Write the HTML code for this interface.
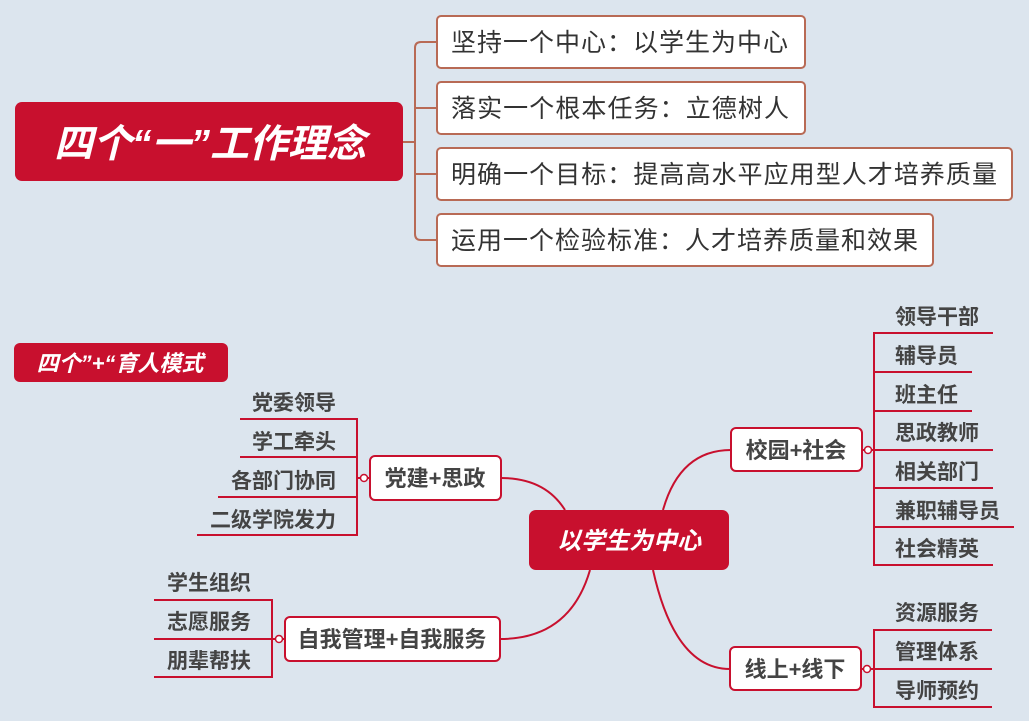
<!DOCTYPE html>
<html><head><meta charset="utf-8"><style>
html,body{margin:0;padding:0;}
body{width:1029px;height:721px;background:#dce5ee;overflow:hidden;}
svg{display:block;}
text{font-family:"Liberation Sans","Noto Sans CJK SC",sans-serif;}
.b{fill:#fff;stroke:#c8102e;stroke-width:2;}
.t{fill:#444;font-weight:bold;font-size:21px;}
.bt{fill:#444;font-weight:bold;font-size:22px;}
.l{stroke:#c8102e;stroke-width:2;fill:none;}
.tb{fill:#fff;stroke:#b86a55;stroke-width:2;}
.tt{fill:#333;font-size:25px;}
</style></head><body>
<svg width="1029" height="721" viewBox="0 0 1029 721">
<path d="M403 142 H415 M437 42 H421 Q415 42 415 48 V234 Q415 240 421 240 H437 M415 108 H437 M415 174 H437" stroke="#b86a55" stroke-width="2" fill="none"/>
<rect x="15" y="102" width="388" height="79" rx="7" fill="#c8102e"/>
<text x="210" y="157" text-anchor="middle" fill="#fff" font-size="39" font-weight="bold" font-style="italic">四个“一”工作理念</text>
<rect class="tb" x="437" y="16" width="368" height="52" rx="4"/>
<text class="tt" x="451" y="51" textLength="337">坚持一个中心：以学生为中心</text>
<rect class="tb" x="437" y="82" width="368" height="52" rx="4"/>
<text class="tt" x="451" y="117" textLength="338">落实一个根本任务：立德树人</text>
<rect class="tb" x="437" y="148" width="575" height="52" rx="4"/>
<text class="tt" x="451" y="183" textLength="546">明确一个目标：提高高水平应用型人才培养质量</text>
<rect class="tb" x="437" y="214" width="496" height="52" rx="4"/>
<text class="tt" x="451" y="249" textLength="467">运用一个检验标准：人才培养质量和效果</text>

<rect x="14" y="343" width="214" height="39" rx="6" fill="#c8102e"/>
<text x="120" y="371" text-anchor="middle" fill="#fff" font-size="22" font-weight="bold" font-style="italic">四个”+“育人模式</text>

<path class="l" d="M565 510 Q545 478 501 478"/>
<path class="l" d="M590 570 Q570 639 500 639"/>
<path class="l" d="M663 510 Q680 450 731 450"/>
<path class="l" d="M653 570 Q675 669 730 669"/>

<rect x="529" y="510" width="200" height="60" rx="7" fill="#c8102e"/>
<text x="629" y="549" text-anchor="middle" fill="#fff" font-size="24" font-weight="bold" font-style="italic">以学生为中心</text>

<path class="l" d="M240 419 H357 V535 H197 M240 457 H357 M218 497 H357 M357 478 H370"/>
<circle cx="364" cy="478" r="3.5" fill="#fff" stroke="#c8102e" stroke-width="1.5"/>
<rect class="b" x="370" y="456" width="131" height="44" rx="5"/>
<text class="bt" x="435" y="486" text-anchor="middle">党建+思政</text>
<text class="t" x="336" y="410" text-anchor="end">党委领导</text>
<text class="t" x="336" y="449" text-anchor="end">学工牵头</text>
<text class="t" x="336" y="488" text-anchor="end">各部门协同</text>
<text class="t" x="336" y="527" text-anchor="end">二级学院发力</text>

<path class="l" d="M154 600 H272 V677 H154 M154 639 H285"/>
<circle cx="279" cy="639" r="3.5" fill="#fff" stroke="#c8102e" stroke-width="1.5"/>
<rect class="b" x="285" y="617" width="215" height="44" rx="5"/>
<text class="bt" x="392" y="647" text-anchor="middle">自我管理+自我服务</text>
<text class="t" x="167" y="590">学生组织</text>
<text class="t" x="167" y="629">志愿服务</text>
<text class="t" x="167" y="668">朋辈帮扶</text>

<path class="l" d="M993 333 H874 V565 H993 M874 372 H972 M874 411 H972 M862 450 H993 M874 488 H993 M874 527 H1014"/>
<circle cx="868" cy="450" r="3.5" fill="#fff" stroke="#c8102e" stroke-width="1.5"/>
<rect class="b" x="731" y="428" width="131" height="43" rx="5"/>
<text class="bt" x="796" y="458" text-anchor="middle">校园+社会</text>
<text class="t" x="895" y="324">领导干部</text>
<text class="t" x="895" y="363">辅导员</text>
<text class="t" x="895" y="402">班主任</text>
<text class="t" x="895" y="440">思政教师</text>
<text class="t" x="895" y="479">相关部门</text>
<text class="t" x="895" y="518">兼职辅导员</text>
<text class="t" x="895" y="556">社会精英</text>

<path class="l" d="M992 630 H874 V707 H992 M861 669 H992"/>
<circle cx="867" cy="669" r="3.5" fill="#fff" stroke="#c8102e" stroke-width="1.5"/>
<rect class="b" x="730" y="647" width="131" height="43" rx="5"/>
<text class="bt" x="795" y="677" text-anchor="middle">线上+线下</text>
<text class="t" x="895" y="620">资源服务</text>
<text class="t" x="895" y="659">管理体系</text>
<text class="t" x="895" y="698">导师预约</text>
</svg>
</body></html>
